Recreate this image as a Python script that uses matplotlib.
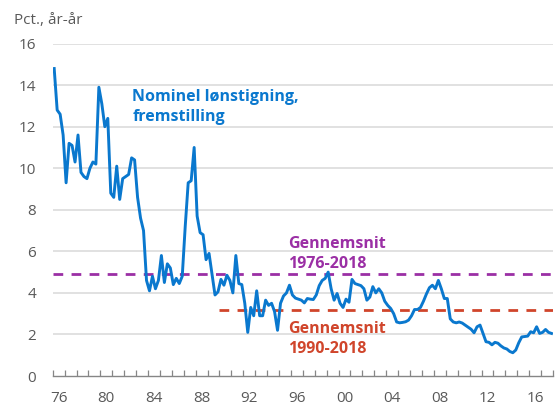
import matplotlib
matplotlib.use("Agg")
import matplotlib.pyplot as plt
import numpy as np

plt.rcParams['font.family'] = ['Open Sans', 'DejaVu Sans']

start_year = 1976
end_year = 2018
# Quarterly nominal wage growth, manufacturing (pct. y/y), 1976Q1-2017Q4
wage_growth = [
    14.8, 12.8, 12.6, 11.6,   # 1976
    9.3, 11.2, 11.1, 10.3,    # 1977
    11.6, 9.8, 9.6, 9.5,      # 1978
    10.0, 10.3, 10.2, 13.9,   # 1979
    13.1, 12.0, 12.4, 8.8,    # 1980
    8.6, 10.1, 8.5, 9.5,      # 1981
    9.6, 9.7, 10.5, 10.4,     # 1982
    8.6, 7.6, 7.0, 4.6,       # 1983
    4.1, 4.8, 4.2, 4.6,       # 1984
    5.8, 4.5, 5.4, 5.2,       # 1985
    4.4, 4.7, 4.45, 4.8,      # 1986
    7.2, 9.3, 9.4, 11.0,      # 1987
    7.7, 6.9, 6.8, 5.6,       # 1988
    5.9, 4.9, 3.9, 4.05,      # 1989
    4.65, 4.37, 4.85, 4.6,    # 1990
    4.0, 5.8, 4.45, 4.4,      # 1991
    3.5, 2.1, 3.3, 2.9,       # 1992
    4.1, 2.9, 2.9, 3.65,      # 1993
    3.4, 3.5, 3.1, 2.2,       # 1994
    3.5, 3.85, 4.0, 4.37,     # 1995
    3.9, 3.75, 3.7, 3.65,     # 1996
    3.52, 3.73, 3.7, 3.68,    # 1997
    3.9, 4.35, 4.6, 4.7,      # 1998
    5.0, 4.2, 3.65, 3.97,     # 1999
    3.5, 3.3, 3.7, 3.55,      # 2000
    4.65, 4.45, 4.4, 4.35,    # 2001
    4.2, 3.65, 3.8, 4.3,      # 2002
    4.0, 4.2, 4.0, 3.6,       # 2003
    3.4, 3.25, 3.0, 2.6,      # 2004
    2.56, 2.58, 2.61, 2.69,   # 2005
    2.9, 3.2, 3.2, 3.3,       # 2006
    3.6, 3.95, 4.25, 4.37,    # 2007
    4.2, 4.6, 4.2, 3.73,      # 2008
    3.73, 2.75, 2.6, 2.56,    # 2009
    2.6, 2.55, 2.45, 2.35,    # 2010
    2.25, 2.08, 2.37, 2.45,   # 2011
    2.05, 1.65, 1.62, 1.5,    # 2012
    1.62, 1.58, 1.45, 1.35,   # 2013
    1.3, 1.18, 1.12, 1.25,    # 2014
    1.6, 1.88, 1.9, 1.92,     # 2015
    2.13, 2.08, 2.37, 2.05,   # 2016
    2.1, 2.24, 2.1, 2.05,     # 2017
]
avg_1976_2018 = 4.9
avg_1990_2018 = 3.17
avg_1990_start = 1990
tick_label_years = list(range(1976, 2017, 4))
tick_labels = [f"{y % 100:02d}" for y in tick_label_years]
y_ticks = [0, 2, 4, 6, 8, 10, 12, 14, 16]

BLUE = '#0A78CE'
PURPLE = '#9B2FA5'
RED = '#D0452B'
GRAY_TXT = '#595959'

n = len(wage_growth)
t = start_year + (np.arange(n) + 0.5) / 4.0

fig = plt.figure(figsize=(5.55, 4.07), dpi=100)
ax = fig.add_axes([52.7/555, 31/407, (553-52.7)/555, (376-43.6)/407])

for v in y_ticks[1:]:
    ax.axhline(v, color='#D9D9D9', lw=1.1, zorder=0)

ax.plot([start_year, end_year], [avg_1976_2018]*2, color=PURPLE, lw=2.0,
        dashes=(3.5, 3.0), zorder=2)
ax.plot([avg_1990_start, end_year], [avg_1990_2018]*2, color=RED, lw=2.0,
        dashes=(3.5, 3.0), zorder=2)
ax.plot(t, wage_growth, color=BLUE, lw=2.1, zorder=3, solid_joinstyle='round')

ax.set_xlim(start_year, end_year)
ax.set_ylim(0, 16)
for s in ['top', 'right', 'left']:
    ax.spines[s].set_visible(False)
ax.spines['bottom'].set_color('#868686')
ax.spines['bottom'].set_linewidth(1.0)

ax.set_xticks(range(start_year, end_year + 1))
ax.set_xticklabels([])
ax.tick_params(axis='x', which='major', direction='in', length=4, width=0.9,
               color='#868686')
ax.set_xticks([y + 0.5 for y in tick_label_years], minor=True)
ax.set_xticklabels(tick_labels, minor=True)
ax.tick_params(axis='x', which='minor', length=0, pad=11, labelsize=11,
               labelcolor=GRAY_TXT)

ax.set_yticks(y_ticks)
ax.set_yticklabels([str(v) for v in y_ticks])
ax.tick_params(axis='y', length=0, pad=12, labelsize=11, labelcolor=GRAY_TXT)

fig.text(14/555, 1 - 21/407, 'Pct., år-år', fontsize=11, color=GRAY_TXT,
         ha='left', va='center')

fs = 11.5
ax.text(1982.68, 13.26, 'Nominel lønstigning,', color=BLUE, fontsize=fs,
        fontweight='bold', ha='left', va='baseline')
ax.text(1982.68, 12.27, 'fremstilling', color=BLUE, fontsize=fs,
        fontweight='bold', ha='left', va='baseline')
ax.text(1995.78, 6.14, 'Gennemsnit', color=PURPLE, fontsize=fs,
        fontweight='bold', ha='left', va='baseline')
ax.text(1995.78, 5.20, '1976-2018', color=PURPLE, fontsize=fs,
        fontweight='bold', ha='left', va='baseline')
ax.text(1995.78, 2.05, 'Gennemsnit', color=RED, fontsize=fs,
        fontweight='bold', ha='left', va='baseline')
ax.text(1995.78, 1.105, '1990-2018', color=RED, fontsize=fs,
        fontweight='bold', ha='left', va='baseline')

fig.savefig('out.png', dpi=100)
